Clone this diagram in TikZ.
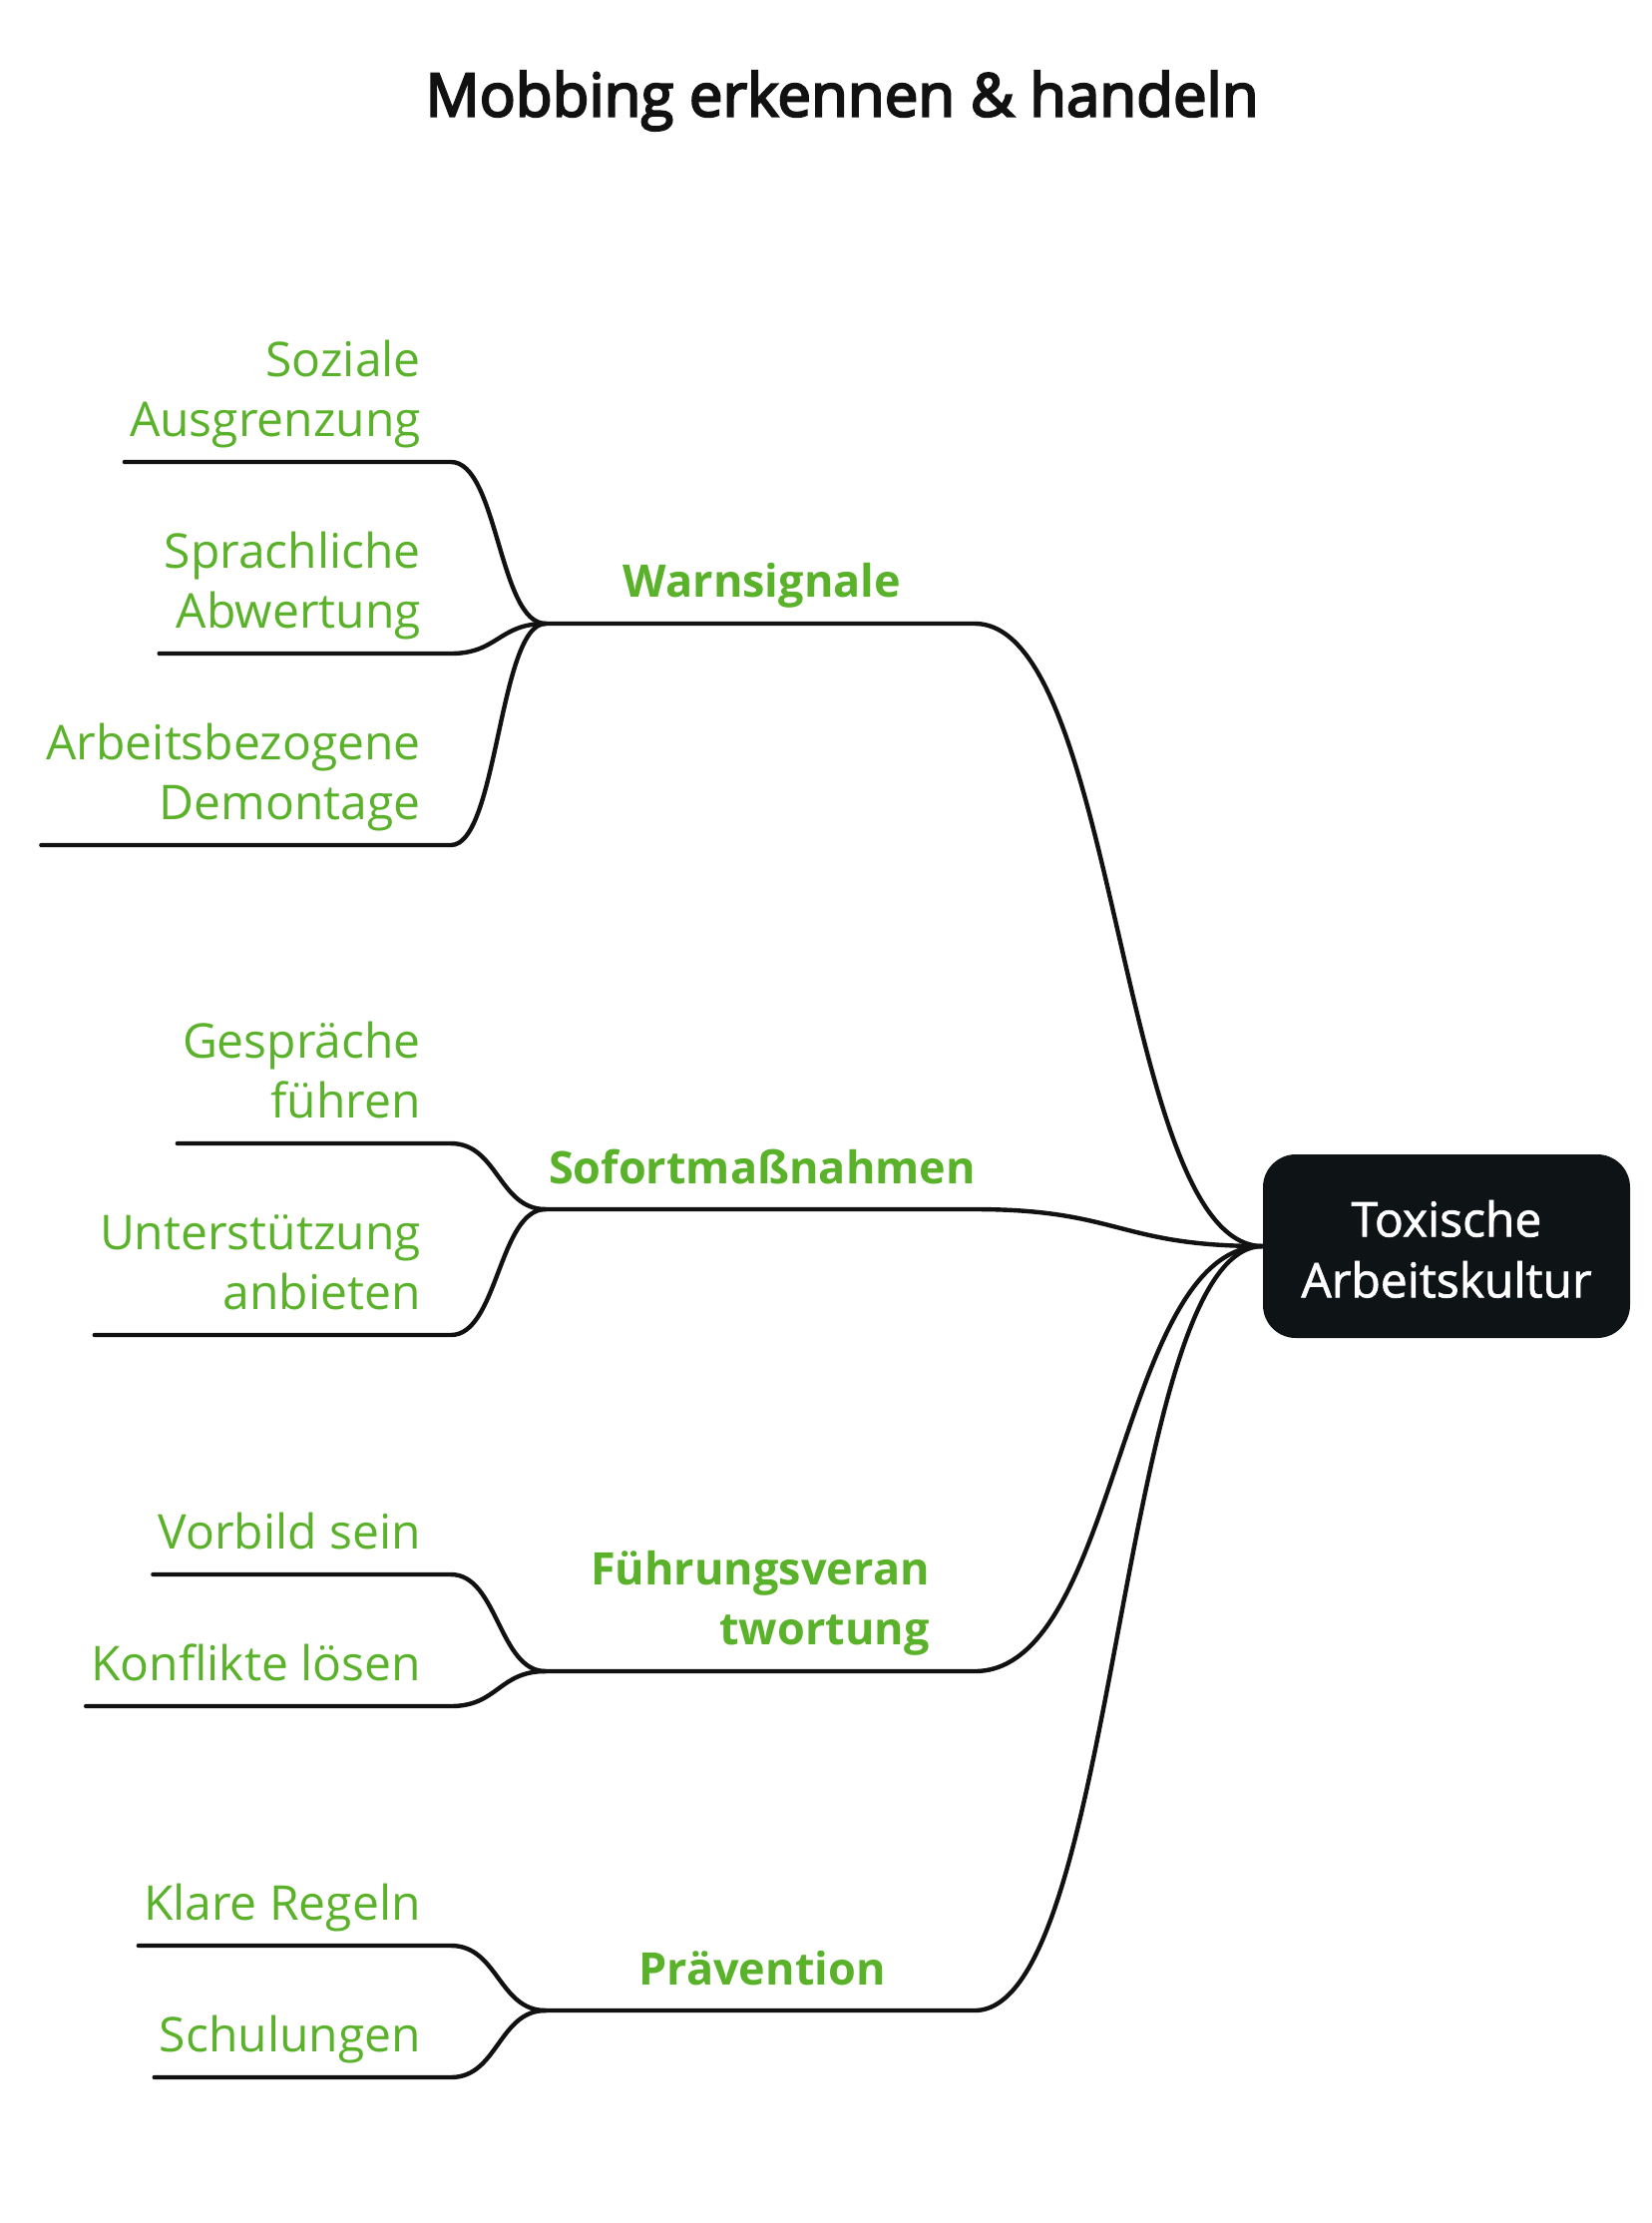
\documentclass[tikz,border=0pt]{standalone}
\usepackage{fontspec}
\setmainfont{Open Sans}
\newfontfamily\semibold{Open Sans}[FakeBold=3.5]
\newfontfamily\medium{Open Sans}[FakeBold=1.5]
\usetikzlibrary{calc}
\definecolor{leafgreen}{RGB}{90,178,42}
\definecolor{rootfill}{RGB}{14,19,22}
\definecolor{ink}{RGB}{17,17,17}
\tikzset{
  leaf/.style={anchor=south east, inner sep=0pt, align=right, text=leafgreen,
    font=\fontsize{48}{60}\selectfont},
  branchlbl/.style={inner sep=0pt, text=leafgreen,
    font=\bfseries\fontsize{45}{60}\selectfont},
  rootbox/.style={fill=rootfill, rounded corners=33pt, minimum width=368pt,
    minimum height=184pt, text=white, align=center, inner sep=0pt,
    font=\medium\fontsize{48}{61}\selectfont},
  titlelbl/.style={inner sep=0pt, text=ink, font=\semibold\fontsize{60}{72}\selectfont},
  edge/.style={draw=ink, line width=4.4pt, line cap=round, line join=round}
}
\begin{document}
\begin{tikzpicture}[x=1pt,y=-1pt]
\useasboundingbox[fill=white] (0,0) rectangle (1656,2228);

\node[titlelbl] (title) at (844,101) {Mobbing erkennen \& handeln};

\node[rootbox] (root) at (1450,1249) {\begin{tabular}{@{}c@{}}\rule{0pt}{60pt}Toxische\\Arbeitskultur\end{tabular}};

% branch junctions and ends
\coordinate (J1) at (547,625);  \coordinate (E1) at (977,625);
\coordinate (J2) at (547,1212); \coordinate (E2) at (977,1212);
\coordinate (J3) at (547,1675); \coordinate (E3) at (977,1675);
\coordinate (J4) at (547,2015); \coordinate (E4) at (977,2015);

\node[branchlbl, anchor=base] (b1) at (764,598) {Warnsignale};
\node[branchlbl, anchor=base] (b2) at (764,1186) {Sofortmaßnahmen};
\node[branchlbl, anchor=south east, align=right] (b3) at (932,1667) {Führungsveran\\twortung\strut};
\node[branchlbl, anchor=base] (b4) at (764,1989) {Prävention};

\draw[edge] (J1) -- (E1) .. controls +(145,0) and +(-145,0) .. (root.west);
\draw[edge] (J2) -- (E2) .. controls +(145,0) and +(-145,0) .. (root.west);
\draw[edge] (J3) -- (E3) .. controls +(145,0) and +(-145,0) .. (root.west);
\draw[edge] (J4) -- (E4) .. controls +(145,0) and +(-145,0) .. (root.west);

% leaves
\node[leaf] (l1) at (422,456) {Soziale\\Ausgrenzung\strut};
\node[leaf] (l2) at (422,648) {Sprachliche\\Abwertung\strut};
\node[leaf] (l3) at (422,840) {Arbeitsbezogene\\Demontage\strut};
\node[leaf] (l4) at (422,1139) {Gespräche\\führen\strut};
\node[leaf] (l5) at (422,1331) {Unterstützung\\anbieten\strut};
\node[leaf] (l6) at (422,1571) {Vorbild sein\strut};
\node[leaf] (l7) at (422,1703) {Konflikte lösen\strut};
\node[leaf] (l8) at (422,1943) {Klare Regeln\strut};
\node[leaf] (l9) at (422,2075) {Schulungen\strut};

\foreach \l/\j in {l1/J1,l2/J1,l3/J1,l4/J2,l5/J2,l6/J3,l7/J3,l8/J4,l9/J4}{
  \draw[edge] ([shift={(-5,7)}]\l.south west) -- ([shift={(30,7)}]\l.south east)
    .. controls +(47,0) and +(-47,0) .. (\j);
}
\end{tikzpicture}
\end{document}
